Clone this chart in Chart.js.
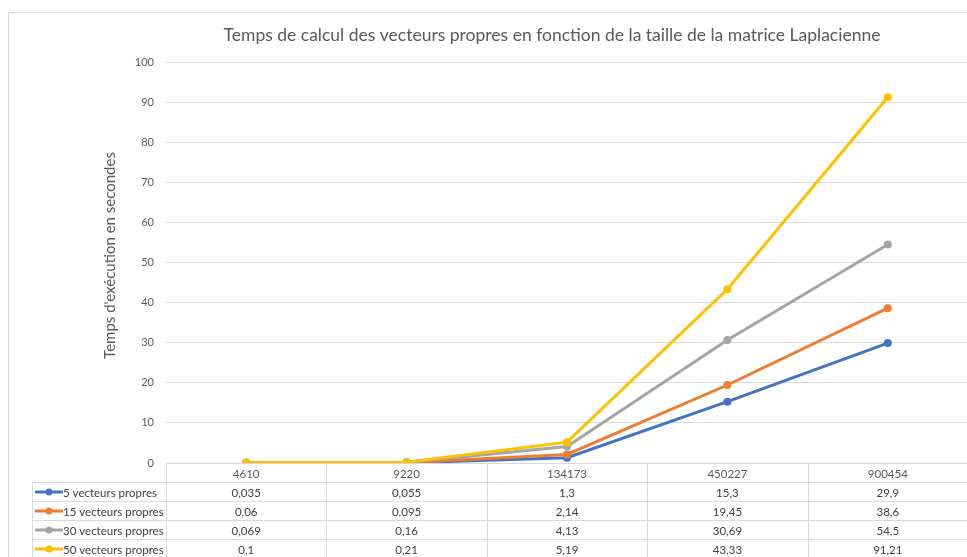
<!DOCTYPE html>
<html lang="fr">
<head>
<meta charset="utf-8">
<title>Temps de calcul des vecteurs propres</title>
<script src="https://cdn.jsdelivr.net/npm/chart.js@4.4.1/dist/chart.umd.min.js"></script>
<style>
  html, body { margin: 0; padding: 0; background: #fff; overflow: hidden; }
  /* 5 px de plus que la fenêtre : Chart.js garde une marge à droite */
  #wrap { width: 972px; height: 557px; }
</style>
</head>
<body>
<div id="wrap"><canvas id="tempsChart"></canvas></div>
<script>
const tailles = ['4610', '9220', '134173', '450227', '900454'];
const nomsSeries = ['5 vecteurs propres', '15 vecteurs propres', '30 vecteurs propres', '50 vecteurs propres'];
const vp5 = [0.035, 0.055, 1.3, 15.3, 29.9];
const vp15 = [0.06, 0.095, 2.14, 19.45, 38.6];
const vp30 = [0.069, 0.16, 4.13, 30.69, 54.5];
const vp50 = [0.1, 0.21, 5.19, 43.33, 91.21];
const couleurs = ['#4472C4', '#ED7D31', '#A5A5A5', '#FFC000'];
const yMin = 0, yMax = 100, yPas = 10;

const titre = 'Temps de calcul des vecteurs propres en fonction de la taille de la matrice Laplacienne';
const titreY = "Temps d'exécution en secondes";

const valeurs = [vp5, vp15, vp30, vp50];
const police = 'Lato, "Open Sans", sans-serif';
const gris = '#595959';
const grille = '#d9d9d9';

// cadre gris + titres (placés comme dans Excel)
const cadre = {
    id: 'cadre',
    beforeDraw(chart) {
        const ctx = chart.ctx;
        ctx.save();
        ctx.fillStyle = '#fff';
        ctx.fillRect(0, 0, chart.width, chart.height);
        ctx.strokeStyle = grille;
        ctx.lineWidth = 1;
        ctx.strokeRect(8.5, 12.5, chart.width + 10, chart.height + 10);

        const area = chart.chartArea;
        ctx.fillStyle = gris;
        ctx.textAlign = 'center';
        ctx.textBaseline = 'middle';
        ctx.font = '17.5px ' + police;
        ctx.fillText(titre, area.left + (area.right - area.left) / 2 - 15, 35);

        ctx.translate(110, (area.top + area.bottom) / 2 - 7);
        ctx.rotate(-Math.PI / 2);
        ctx.font = '15px ' + police;
        ctx.fillText(titreY, 0, 0);
        ctx.restore();
    }
};

// tableau de données sous l'axe des x
const tableauDonnees = {
    id: 'tableauDonnees',
    afterDraw(chart) {
        const ctx = chart.ctx;
        const area = chart.chartArea;
        const x = chart.scales.x;
        const n = tailles.length;
        const largeur = (area.right - area.left) / n;
        const hLigne = 19;
        const gauche = 32.5;
        const haut = Math.round(area.bottom) + 0.5;
        const bas = haut + hLigne * (nomsSeries.length + 1);

        ctx.save();
        ctx.strokeStyle = grille;
        ctx.lineWidth = 1;
        ctx.beginPath();
        ctx.moveTo(area.left, haut);
        ctx.lineTo(area.right, haut);
        for (let r = 1; r <= nomsSeries.length; r++) {
            const y = haut + r * hLigne;
            ctx.moveTo(gauche, y);
            ctx.lineTo(area.right, y);
        }
        for (let i = 0; i < n; i++) {
            const xb = Math.round(area.left + i * largeur) + 0.5;
            ctx.moveTo(xb, haut);
            ctx.lineTo(xb, bas);
        }
        ctx.moveTo(gauche, haut + hLigne);
        ctx.lineTo(gauche, bas);
        ctx.stroke();

        ctx.font = '11.5px ' + police;
        ctx.fillStyle = gris;
        ctx.textAlign = 'center';
        ctx.textBaseline = 'middle';
        tailles.forEach((t, i) => {
            ctx.fillText(t, x.getPixelForValue(i), haut + hLigne / 2 + 1);
        });

        nomsSeries.forEach((nom, s) => {
            const yc = haut + hLigne * (s + 1) + hLigne / 2;
            // clé de légende
            ctx.strokeStyle = couleurs[s];
            ctx.lineWidth = 3;
            ctx.beginPath();
            ctx.moveTo(35, yc);
            ctx.lineTo(63, yc);
            ctx.stroke();
            ctx.fillStyle = couleurs[s];
            ctx.beginPath();
            ctx.arc(49, yc, 3.5, 0, Math.PI * 2);
            ctx.fill();

            ctx.fillStyle = '#404040';
            ctx.textAlign = 'left';
            ctx.fillText(nom, 63, yc + 1);
            ctx.textAlign = 'center';
            valeurs[s].forEach((v, i) => {
                ctx.fillText(String(v).replace('.', ','), x.getPixelForValue(i), yc + 1);
            });
        });
        ctx.restore();
    }
};

const datasets = nomsSeries.map((nom, s) => ({
    label: nom,
    data: valeurs[s],
    borderColor: couleurs[s],
    backgroundColor: couleurs[s],
    borderWidth: 3,
    pointRadius: 4,
    pointHoverRadius: 4,
    pointBorderWidth: 0,
    tension: 0,
    order: nomsSeries.length - 1 - s
}));

new Chart(document.getElementById('tempsChart'), {
    type: 'line',
    data: { labels: tailles, datasets: datasets },
    options: {
        responsive: true,
        maintainAspectRatio: false,
        animation: false,
        events: [],
        layout: { padding: { left: 8, top: 62, right: 0, bottom: 94 } },
        plugins: {
            legend: { display: false },
            tooltip: { enabled: false },
            title: { display: false }
        },
        scales: {
            x: {
                display: false,
                offset: true
            },
            y: {
                min: yMin,
                max: yMax,
                ticks: {
                    stepSize: yPas,
                    color: gris,
                    padding: 12,
                    font: { family: police, size: 11 }
                },
                grid: { color: grille, drawTicks: false },
                border: { display: false },
                afterFit(scale) { scale.width = 158; }
            }
        }
    },
    plugins: [cadre, tableauDonnees]
});
</script>
</body>
</html>
